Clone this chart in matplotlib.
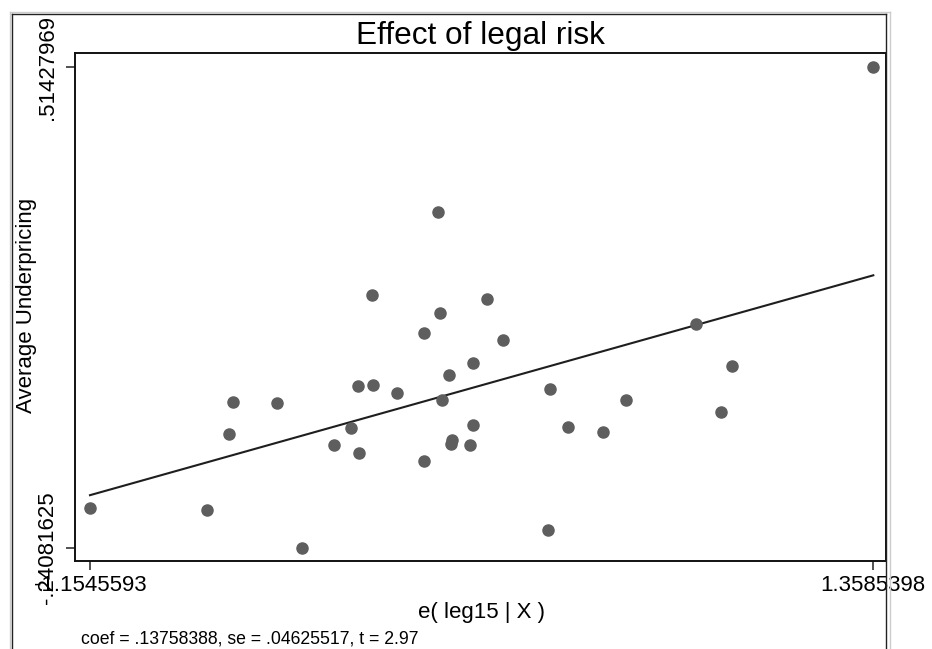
import matplotlib
matplotlib.use("Agg")
import matplotlib.pyplot as plt
from matplotlib.lines import Line2D
import numpy as np

plt.rcParams['font.family'] = ['Liberation Sans', 'DejaVu Sans']

# ---- data ----
resid_x = [-1.1545593, -0.78015, -0.70860, -0.69577, -0.55460, -0.47535, -0.37173,
           -0.31815, -0.29472, -0.29152, -0.24885, -0.24756, -0.16863, -0.08297,
           -0.08202, -0.03903, -0.03165, -0.02427, -0.00182, 0.00781, 0.00267,
           0.06556, 0.07422, 0.07422, 0.11914, 0.16983, 0.31388, 0.32030,
           0.37997, 0.49034, 0.56605, 0.78967, 0.86891, 0.90421, 1.3585398]
resid_y = [-0.17847, -0.18099, -0.06243, -0.01252, -0.01362, -0.24081625, -0.08023,
           -0.05251, 0.01361, -0.09282, 0.15594, 0.01424, 0.00212, -0.10447,
           0.09706, 0.28756, 0.12807, -0.00843, 0.03093, -0.07188, -0.07818,
           -0.07975, 0.04982, -0.04779, 0.14964, 0.08635, -0.21311, 0.00889,
           -0.05189, -0.05929, -0.00938, 0.11028, -0.02780, 0.04415, 0.51427969]
coef = 0.13758388
intercept = 0.00045
x_ticks = [-1.1545593, 1.3585398]
x_tick_labels = ["-1.1545593", "1.3585398"]
y_ticks = [-0.24081625, 0.51427969]
y_tick_labels = ["-.24081625", ".51427969"]
title = "Effect of legal risk"
xlabel = "e( leg15 | X )"
ylabel = "Average Underpricing"
note = "coef = .13758388, se = .04625517, t = 2.97"

W, H = 932, 649
fig = plt.figure(figsize=(W / 100, H / 100), dpi=100)
fig.patch.set_facecolor('white')

def fx(px):
    return px / W

def fy(py):
    return 1 - py / H

ax = fig.add_axes([fx(75), fy(561), fx(886) - fx(75), fy(53) - fy(561)])

xs = np.array(resid_x)
ys = np.array(resid_y)
ax.plot(xs, ys, linestyle='none', marker='o', ms=8, mfc='#5e5e5e', mec='#5e5e5e', zorder=3)

xl = np.array([min(resid_x), max(resid_x)])
ax.plot(xl, intercept + coef * xl, color='#1e1e1e', lw=1.5, zorder=2)

ax.set_xlim(-1.20268, 1.39929)
ax.set_ylim(-0.26191, 0.53695)

ax.set_xticks(x_ticks)
ax.set_xticklabels(x_tick_labels, fontsize=16)
ax.set_yticks(y_ticks)
ax.set_yticklabels(y_tick_labels, fontsize=16, rotation=90, va='center')
ax.tick_params(axis='both', direction='out', length=6.5, width=1.2, color='#333333')
ax.tick_params(axis='x', pad=3.5)
ax.tick_params(axis='y', pad=6)

for s in ax.spines.values():
    s.set_linewidth(1.4)
    s.set_color('#111111')

ax.set_title(title, fontsize=22.7, pad=6.5)

fig.text(fx(481), fy(618), xlabel, ha='center', va='baseline', fontsize=16)
fig.text(fx(27), fy(305), ylabel, ha='center', va='center', rotation=90, fontsize=16)
fig.text(fx(81), fy(643), note, ha='left', va='baseline', fontsize=12.7)

# outer graph-region frame (cropped at the bottom)
fig.add_artist(Line2D([fx(10), fx(10)], [fy(12), 0], transform=fig.transFigure, color='#cccccc', lw=1))
fig.add_artist(Line2D([fx(10), fx(890)], [fy(12), fy(12)], transform=fig.transFigure, color='#cccccc', lw=1))
fig.add_artist(Line2D([fx(890), fx(890)], [fy(12), 0], transform=fig.transFigure, color='#cccccc', lw=1))
fig.add_artist(Line2D([fx(12), fx(12)], [fy(14), 0], transform=fig.transFigure, color='#222222', lw=1))
fig.add_artist(Line2D([fx(12), fx(886)], [fy(14), fy(14)], transform=fig.transFigure, color='#222222', lw=1))
fig.add_artist(Line2D([fx(886), fx(886)], [fy(14), 0], transform=fig.transFigure, color='#222222', lw=1))

fig.savefig("out.png", dpi=100)
